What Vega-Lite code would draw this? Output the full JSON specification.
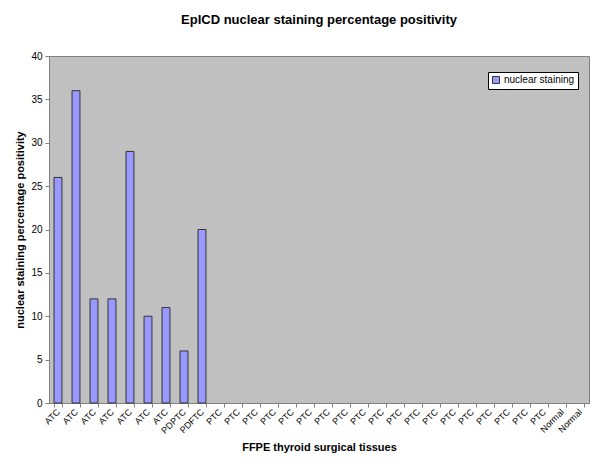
{
  "$schema": "https://vega.github.io/schema/vega-lite/v6.json",
  "width": 540,
  "height": 347,
  "autosize": {"type": "none"},
  "padding": {"left": 49, "top": 56, "right": 11, "bottom": 71},
  "background": "white",
  "title": {
    "text": "EpICD nuclear staining percentage positivity",
    "font": "Liberation Sans",
    "fontSize": 13,
    "fontWeight": "bold",
    "color": "black",
    "anchor": "middle",
    "offset": 24
  },
  "config": {
    "view": {"fill": "#C0C0C0", "stroke": "#808080", "strokeWidth": 1},
    "font": "Liberation Sans"
  },
  "data": {
    "values": [
      {"sample": "ATC 1", "value": 26, "series": "nuclear staining"},
      {"sample": "ATC 2", "value": 36, "series": "nuclear staining"},
      {"sample": "ATC 3", "value": 12, "series": "nuclear staining"},
      {"sample": "ATC 4", "value": 12, "series": "nuclear staining"},
      {"sample": "ATC 5", "value": 29, "series": "nuclear staining"},
      {"sample": "ATC 6", "value": 10, "series": "nuclear staining"},
      {"sample": "ATC 7", "value": 11, "series": "nuclear staining"},
      {"sample": "PDPTC 1", "value": 6, "series": "nuclear staining"},
      {"sample": "PDFTC 1", "value": 20, "series": "nuclear staining"},
      {"sample": "PTC 1", "value": 0, "series": "nuclear staining"},
      {"sample": "PTC 2", "value": 0, "series": "nuclear staining"},
      {"sample": "PTC 3", "value": 0, "series": "nuclear staining"},
      {"sample": "PTC 4", "value": 0, "series": "nuclear staining"},
      {"sample": "PTC 5", "value": 0, "series": "nuclear staining"},
      {"sample": "PTC 6", "value": 0, "series": "nuclear staining"},
      {"sample": "PTC 7", "value": 0, "series": "nuclear staining"},
      {"sample": "PTC 8", "value": 0, "series": "nuclear staining"},
      {"sample": "PTC 9", "value": 0, "series": "nuclear staining"},
      {"sample": "PTC 10", "value": 0, "series": "nuclear staining"},
      {"sample": "PTC 11", "value": 0, "series": "nuclear staining"},
      {"sample": "PTC 12", "value": 0, "series": "nuclear staining"},
      {"sample": "PTC 13", "value": 0, "series": "nuclear staining"},
      {"sample": "PTC 14", "value": 0, "series": "nuclear staining"},
      {"sample": "PTC 15", "value": 0, "series": "nuclear staining"},
      {"sample": "PTC 16", "value": 0, "series": "nuclear staining"},
      {"sample": "PTC 17", "value": 0, "series": "nuclear staining"},
      {"sample": "PTC 18", "value": 0, "series": "nuclear staining"},
      {"sample": "PTC 19", "value": 0, "series": "nuclear staining"},
      {"sample": "Normal 1", "value": 0, "series": "nuclear staining"},
      {"sample": "Normal 2", "value": 0, "series": "nuclear staining"}
    ]
  },
  "mark": {"type": "bar", "stroke": "#333333", "strokeWidth": 1},
  "encoding": {
    "x": {
      "field": "sample",
      "type": "nominal",
      "sort": null,
      "scale": {"paddingInner": 0.56, "paddingOuter": 0.28},
      "axis": {
        "title": "FFPE thyroid surgical tissues",
        "titleFont": "Liberation Sans",
        "titleFontSize": 11,
        "titleFontWeight": "bold",
        "titleColor": "black",
        "titlePadding": 6,
        "labelExpr": "split(datum.label, ' ')[0]",
        "labelAngle": -45,
        "labelAlign": "right",
        "labelBaseline": "middle",
        "labelFontSize": 9,
        "labelColor": "black",
        "labelPadding": 3,
        "labelOverlap": false,
        "domainColor": "#808080",
        "tickColor": "#808080",
        "tickSize": 4,
        "tickBand": "extent",
        "grid": false
      }
    },
    "y": {
      "field": "value",
      "type": "quantitative",
      "scale": {"domain": [0, 40], "nice": false},
      "axis": {
        "title": "nuclear staining percentage positivity",
        "titleFont": "Liberation Sans",
        "titleFontSize": 11,
        "titleFontWeight": "bold",
        "titleColor": "black",
        "titlePadding": 5,
        "values": [0, 5, 10, 15, 20, 25, 30, 35, 40],
        "labelFontSize": 10,
        "labelColor": "black",
        "labelPadding": 3,
        "domainColor": "#808080",
        "tickColor": "#808080",
        "tickSize": 4,
        "grid": false
      }
    },
    "strokeOpacity": {
      "condition": {"test": "datum.value === 0", "value": 0},
      "value": 1
    },
    "color": {
      "field": "series",
      "type": "nominal",
      "scale": {"range": ["#9999FF"]},
      "legend": {
        "title": null,
        "orient": "none",
        "legendX": 439,
        "legendY": 16,
        "fillColor": "white",
        "strokeColor": "black",
        "padding": 3,
        "symbolType": "square",
        "symbolSize": 50,
        "symbolStrokeColor": "#333333",
        "symbolStrokeWidth": 1,
        "symbolOpacity": 1,
        "labelFontSize": 10,
        "labelColor": "black",
        "labelOffset": 3
      }
    }
  }
}
